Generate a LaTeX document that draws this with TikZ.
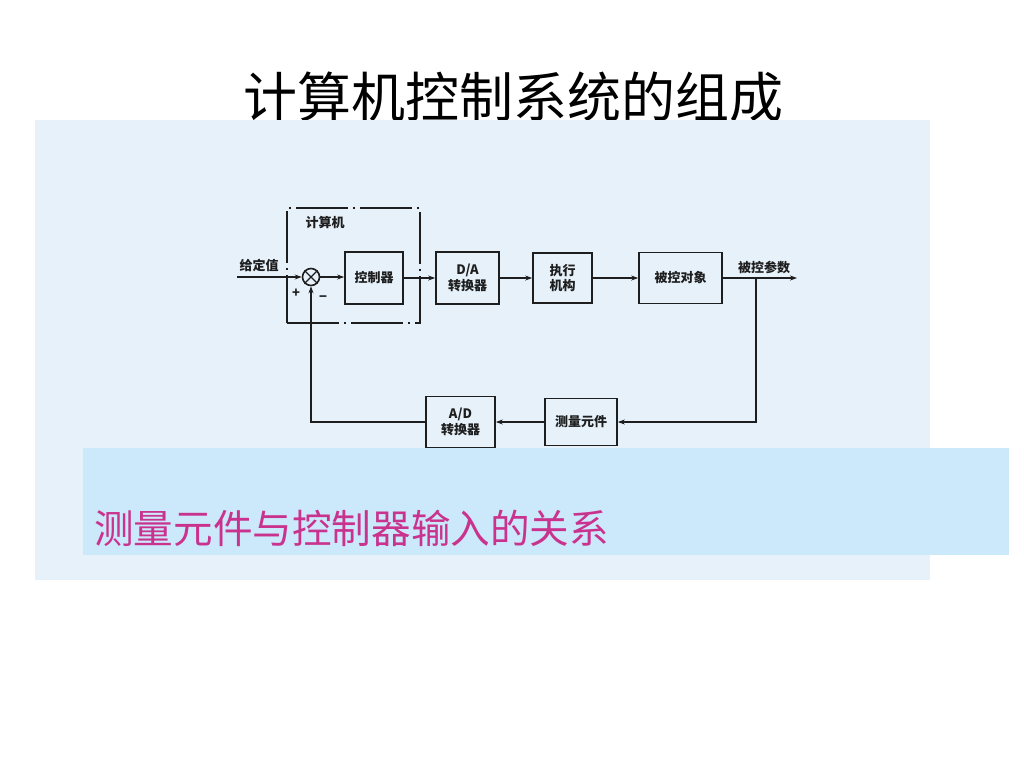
\documentclass[tikz,border=0pt]{standalone}
\usepackage{fontspec}
\setmainfont{Noto Sans CJK SC}
\newfontfamily\cjk{Noto Sans CJK SC}
\usetikzlibrary{arrows.meta}
\definecolor{bgblue}{HTML}{E6F1FA}
\definecolor{bandblue}{HTML}{CCE8FB}
\definecolor{mag}{HTML}{C9338E}
\definecolor{ink}{HTML}{1E1E1E}
\tikzset{
  blk/.style={draw=ink, line width=1.7pt, inner sep=0pt, align=center,
    font=\cjk\bfseries\fontsize{13}{15.5}\selectfont, text=ink},
  lbl/.style={inner sep=0pt, font=\cjk\bfseries\fontsize{13}{15.5}\selectfont, text=ink},
  wire/.style={draw=ink, line width=1.6pt},
  arr/.style={wire, -{Stealth[length=7pt,width=5pt]}},
  compbox/.style={draw=ink, line width=1.6pt, dash pattern=on 52pt off 5pt on 2pt off 5pt}
}
\begin{document}
\begin{tikzpicture}[x=1pt,y=-1pt]
\useasboundingbox (0,0) rectangle (1024,768);
\fill[white] (0,0) rectangle (1024,768);
% title
\node[inner sep=0pt, font=\cjk\fontsize{54}{60}\selectfont, text=black] (title) at (513,97) {计算机控制系统的组成};
% background panels
\fill[bgblue] (35,120) rectangle (930,580);
\fill[bandblue] (83,448) rectangle (1009,555);
\node[anchor=west, inner sep=0pt, font=\cjk\fontsize{39.6}{44}\selectfont, text=mag] (sub) at (94,528) {测量元件与控制器输入的关系};
% computer dashed box
\node[compbox, minimum width=133pt, minimum height=115pt, inner sep=0pt] (comp) at (353.5,265.5) {};
\node[lbl] (complbl) at (325,223) {计算机};
% summing junction
\node[circle, draw=ink, line width=1.6pt, minimum size=17pt, inner sep=0pt] (sum) at (311,277) {};
\draw[wire, line width=1.2pt] (sum.north west) -- (sum.south east);
\draw[wire, line width=1.2pt] (sum.north east) -- (sum.south west);
\node[lbl] (plus) at (296,293) {+};
\node[lbl] (minus) at (323,299) {−};
% blocks
\node[blk, minimum width=58pt, minimum height=52pt] (ctrl) at (374,278) {控制器};
\node[blk, minimum width=63pt, minimum height=52pt] (da) at (467.5,278) {D/A\\转换器};
\node[blk, minimum width=59pt, minimum height=50pt] (act) at (562.5,278) {执行\\机构};
\node[blk, minimum width=83pt, minimum height=51pt] (plant) at (680.5,278) {被控对象};
\node[blk, minimum width=72pt, minimum height=47pt] (meas) at (581,422) {测量元件};
\node[blk, minimum width=69pt, minimum height=51pt] (ad) at (460.5,422) {A/D\\转换器};
% input / output
\coordinate (in) at (237,277);
\coordinate (out) at (797,278);
\coordinate (tap) at (756,278);
\node[lbl] (inlbl) at (259,265) {给定值};
\node[lbl] (outlbl) at (764,267) {被控参数};
% connectors
\draw[arr] (in) -- (sum.west);
\draw[arr] (sum.east) -- (ctrl.west |- sum.east);
\draw[arr] (ctrl.east) -- (da.west);
\draw[arr] (da.east) -- (act.west);
\draw[arr] (act.east) -- (plant.west);
\draw[arr] (plant.east) -- (out);
\draw[arr] (tap) |- (meas.east);
\draw[arr] (meas.west) -- (ad.east);
\draw[arr] (ad.west) -| (sum.south);
\end{tikzpicture}
\end{document}
